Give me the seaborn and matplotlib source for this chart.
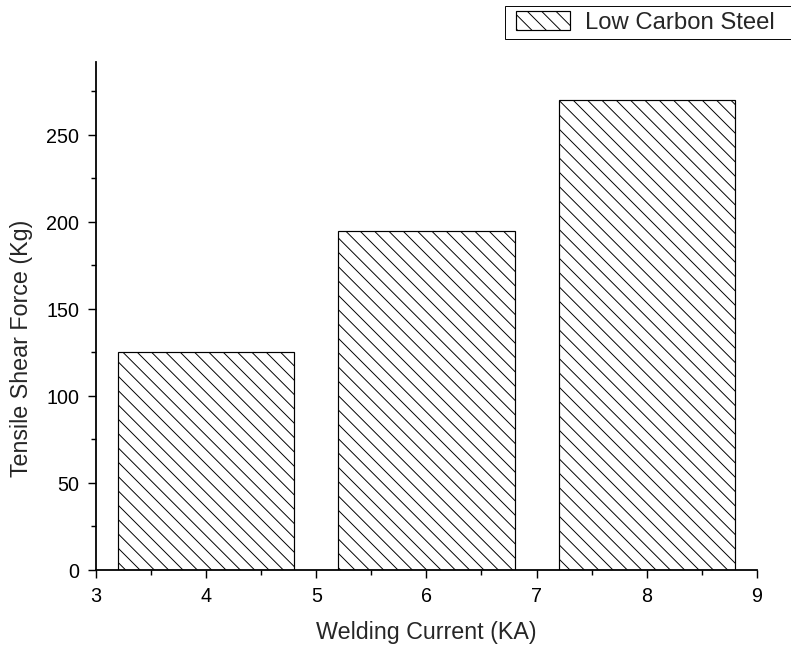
import matplotlib
matplotlib.use("Agg")
import matplotlib.pyplot as plt
from matplotlib.patches import Rectangle
from matplotlib.legend_handler import HandlerPatch
from matplotlib.ticker import MultipleLocator
import numpy as np
import pandas as pd
import seaborn as sns

# Welding current (kA) and the resulting tensile shear force (kg)
welding_current = [4, 6, 8]
shear_force = [125, 195, 270]
series_name = "Low Carbon Steel"
x_ticks = [3, 4, 5, 6, 7, 8, 9]
y_ticks = [0, 50, 100, 150, 200, 250]

df = pd.DataFrame({"current": welding_current, "force": shear_force})

sns.set_style("ticks")
plt.rcParams["font.family"] = ["Liberation Sans", "DejaVu Sans"]
plt.rcParams["hatch.linewidth"] = 0.8
plt.rcParams["hatch.color"] = "black"

HATCH = "\\\\"

DPI = 86
W, H = 791, 647
fig = plt.figure(figsize=((W + 0.3) / DPI, (H + 0.3) / DPI), dpi=DPI)
fig.patch.set_facecolor("white")
ax = fig.add_axes([96 / W, 77 / H, 660.5 / W, 508 / H])

sns.barplot(data=df, x="current", y="force", native_scale=True, width=0.8,
            color="white", edgecolor="black", linewidth=1.0, hatch=HATCH,
            errorbar=None, ax=ax)
for p in ax.patches:
    p.set_facecolor("white")
    p.set_edgecolor("black")
    p.set_hatch(HATCH)

ax.set_xlim(3, 9)
ax.set_ylim(0, 292)
ax.set_xticks(x_ticks)
ax.set_xticklabels([str(t) for t in x_ticks])
ax.set_yticks(y_ticks)
ax.set_yticklabels([str(t) for t in y_ticks])
ax.xaxis.set_minor_locator(MultipleLocator(0.5))
ax.yaxis.set_minor_locator(MultipleLocator(25))

sns.despine(ax=ax)
for side in ("left", "bottom"):
    ax.spines[side].set_linewidth(1.5)
    ax.spines[side].set_color("black")

ax.tick_params(which="major", direction="out", length=7, width=1.2,
               labelsize=16.5, pad=7, colors="black")
ax.tick_params(which="minor", direction="out", length=3.8, width=1.2,
               colors="black")

ax.set_xlabel("Welding Current (KA)", fontsize=19.5)
ax.set_ylabel("Tensile Shear Force (Kg)", fontsize=19.5)
ax.xaxis.set_label_coords(0.5, -0.1)
ax.yaxis.set_label_coords(-0.0954, 0.437)
ax.grid(False)


def offset_patch(legend, orig_handle, xdescent, ydescent, width, height, fontsize):
    off = width * 0.094
    return Rectangle((-xdescent + off, -ydescent), width - off, height)


leg = fig.legend(handles=[ax.patches[0]], labels=[series_name],
                 loc="upper left",
                 bbox_to_anchor=(505 / W, 1 - 6.5 / H, 300 / W, 0),
                 bbox_transform=fig.transFigure, mode="expand",
                 borderaxespad=0, fontsize=20, frameon=True, fancybox=False,
                 framealpha=1, edgecolor="black", borderpad=0.22,
                 handlelength=2.5, handleheight=0.8, handletextpad=0.6,
                 handler_map={Rectangle: HandlerPatch(patch_func=offset_patch)})
leg.get_frame().set_linewidth(0.8)

fig.savefig("out.png", dpi=DPI, facecolor="white")
